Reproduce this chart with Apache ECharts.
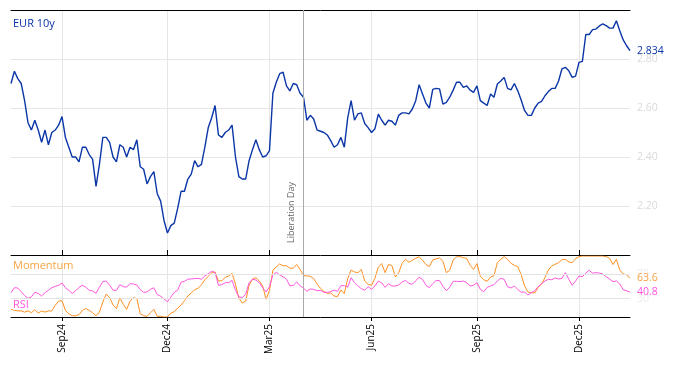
<!DOCTYPE html>
<html><head><meta charset="utf-8">
<script src="https://cdn.jsdelivr.net/npm/echarts@6/dist/echarts.min.js"></script>
<style>html,body{margin:0;padding:0;background:#fff}#c{width:674px;height:366px}</style>
</head><body><div id="c"></div>
<script>
// sampling: one observation every 3 calendar days from start date
const startDate = '2024-07-18';
const stepDays = 3;

const eur10y = [
2.70,2.75,2.72,2.70,2.63,2.54,2.51,2.55,2.51,2.46,2.51,2.45,2.50,2.51,2.53,2.565,2.48,2.44,2.40,2.40,
2.38,2.44,2.44,2.41,2.39,2.28,2.37,2.48,2.48,2.46,2.40,2.38,2.45,2.44,2.40,2.44,2.43,2.47,2.36,2.35,
2.29,2.32,2.34,2.25,2.22,2.14,2.09,2.12,2.13,2.19,2.26,2.26,2.31,2.33,2.385,2.36,2.37,2.44,2.52,2.56,
2.61,2.49,2.48,2.50,2.51,2.53,2.40,2.32,2.31,2.31,2.385,2.43,2.47,2.43,2.40,2.405,2.426,2.66,2.705,2.74,
2.746,2.69,2.67,2.70,2.695,2.66,2.644,2.55,2.57,2.555,2.51,2.505,2.50,2.49,2.467,2.44,2.45,2.48,2.44,2.56,
2.63,2.55,2.576,2.58,2.537,2.52,2.50,2.515,2.575,2.55,2.53,2.55,2.546,2.53,2.57,2.58,2.58,2.576,2.596,2.63,
2.695,2.657,2.62,2.60,2.676,2.68,2.678,2.616,2.623,2.644,2.673,2.705,2.705,2.684,2.69,2.673,2.664,2.69,2.63,2.62,
2.61,2.657,2.644,2.698,2.71,2.725,2.68,2.674,2.70,2.67,2.633,2.59,2.57,2.57,2.60,2.62,2.627,2.65,2.667,2.68,
2.68,2.71,2.76,2.766,2.752,2.725,2.73,2.786,2.79,2.90,2.90,2.92,2.922,2.935,2.943,2.936,2.926,2.926,2.956,2.915,
2.878,2.854,2.834
];

const momentum = [
12.5,11,10,10,8,10,7,12,6.4,10,8,10,10,19,26,26.7,10.8,5.3,2,2,
4,10.8,14,10.8,7,2,8,24.5,37.7,31.6,19.6,13.6,31.6,20.7,12.5,26,31.6,30,5.3,2,
1,7,12.5,1,1,0,0,6.4,8.6,14.6,19.6,26.7,34.4,39.3,44.8,47,53,61,66.7,72.7,
73.8,59,59.6,65,67,71.6,53.6,31,23,26,52,62,64.5,59,51,29,43.7,76.6,82,87,
84,84,80,80,86,78,67.8,67.3,66.7,63,54,47,42,38.8,39.3,34.4,33.5,44.2,38.2,63,
77,73.8,72.7,78,59,53.6,52,63.4,82,87.5,72.7,86,84.5,65.6,72.7,88,94.7,89.7,93,96.3,
98.5,93,86,82.6,93.8,95.2,96.8,91.4,72.7,76.6,93.5,98.5,99,97.4,95.8,84.8,78,87.5,66.7,61.2,
58.5,65.6,67.8,89,94.5,98.8,94.5,88,84.8,82.6,69.5,51,41,39.9,39.3,48.6,54.2,64.5,77,83.7,
86.4,89,94,94.5,90.3,89,95.8,99,100,100,100,100,100,100,100,99,96.4,86,94.5,77,
70.6,69,63.6
];

const rsi = [
39.9,48,47.5,41.5,35,30.5,33,40.4,38.8,34.4,39.9,43.7,48,50.3,52,55.8,48,43.7,38.8,43,
48.6,52,49,43.7,42.6,38.8,49,58,59,52,44,43.7,53,49.7,49,54.7,54,52.5,44.8,40.4,
41,45.3,48,37,34,29.5,25,32.7,40.4,44,57,58.5,62,62.3,63,63.4,62,67.3,71,75,
72.7,52,53,56.3,56.3,60,44,33,32,37,56,62,60.7,56.3,48,41,49.7,69,73.3,69,
66,62,51,52,57.4,51,47.5,42,46,45.3,43,43.7,40.4,40.4,41.5,44,42,51.4,51.4,49,
64.5,56.3,51,46.4,44,49.7,45.3,50.8,59,55.8,48.6,54.7,50.8,50.8,52.5,57.4,60,55.2,53.6,59.6,
65,61.8,52,48,54.7,60,59.6,50.3,43,49,58.5,58.5,58,59,56.3,50.8,52,56.3,45.3,41.5,
48.6,50.8,53,59,63.4,61.8,49.7,47.5,50.8,45.3,40.4,41,36,39.9,43,49.7,54.7,59,61.8,61,
64,62.3,63.4,72.7,62,52,59,67.3,66,72,76.6,72,72.7,72,70.6,66,62.3,58,59,54,
44.8,43,40.8
];

const eventDate = '2025-04-02';
const eventLabel = 'Liberation Day';
const mainLabel = 'EUR 10y';
const momLabel = 'Momentum';
const rsiLabel = 'RSI';
const rsiLevels = [30, 70];
const quarterMonths = [2, 5, 8, 11];
const monthNames = ['Jan','Feb','Mar','Apr','May','Jun','Jul','Aug','Sep','Oct','Nov','Dec'];

const t0 = Date.parse(startDate + 'T00:00:00Z');
const dates = eur10y.map((_, i) => new Date(t0 + i * stepDays * 86400000).toISOString().slice(0, 10));
const monthOf = s => parseInt(s.slice(5, 7), 10) - 1;
const tickSet = new Set();
dates.forEach((d, i) => {
  const m = monthOf(d);
  if (quarterMonths.includes(m) && (i === 0 || monthOf(dates[i - 1]) !== m)) tickSet.add(i);
});
const isTick = (i) => tickSet.has(i);
const fmtDate = v => monthNames[monthOf(v)] + v.slice(2, 4);

const C_MAIN = '#0b36a8', C_MOM = '#ff8f1f', C_RSI = '#ff55dd';
const FONT = '"Open Sans", sans-serif';

const chart = echarts.init(document.getElementById('c'), null, {renderer: 'canvas'});
const cat = {type: 'category', data: dates, boundaryGap: false};
chart.setOption({
  animation: false,
  textStyle: {fontFamily: FONT},
  grid: [
    {left: 11, right: 44, top: 10, height: 245},
    {left: 11, right: 44, top: 256, height: 61}
  ],
  xAxis: [
    Object.assign({}, cat, {gridIndex: 0, position: 'bottom',
      axisLine: {lineStyle: {color: '#000', width: 1}},
      axisTick: {inside: true, length: 5, interval: isTick, lineStyle: {color: '#000'}},
      axisLabel: {show: false},
      splitLine: {show: true, interval: isTick, lineStyle: {color: '#e6e6e6'}}}),
    Object.assign({}, cat, {gridIndex: 0, position: 'top',
      axisLine: {lineStyle: {color: '#000', width: 1}},
      axisTick: {show: false}, axisLabel: {show: false}, splitLine: {show: false}}),
    Object.assign({}, cat, {gridIndex: 1, position: 'bottom',
      axisLine: {lineStyle: {color: '#000', width: 1}},
      axisTick: {length: 4, interval: isTick, lineStyle: {color: '#000'}},
      axisLabel: {interval: isTick, rotate: 90, margin: 7, fontSize: 10, color: '#000', fontFamily: FONT, formatter: fmtDate},
      splitLine: {show: true, interval: isTick, lineStyle: {color: '#e6e6e6'}}})
  ],
  yAxis: [
    {type: 'value', gridIndex: 0, position: 'right', min: 2, max: 3, interval: 0.2,
      axisLine: {show: false}, axisTick: {show: false},
      axisLabel: {showMinLabel: false, showMaxLabel: false, color: '#d9d9d9', fontSize: 10.5, margin: 7, fontFamily: FONT,
        formatter: v => v.toFixed(2)},
      splitLine: {lineStyle: {color: '#e6e6e6'}}},
    {type: 'value', gridIndex: 1, position: 'right', min: 0, max: 100,
      axisLine: {show: false}, axisTick: {show: false},
      axisLabel: {customValues: rsiLevels, color: '#ebebeb', fontSize: 10.5, margin: 7, fontFamily: FONT},
      splitLine: {show: false}}
  ],
  series: [
    {type: 'line', name: mainLabel, xAxisIndex: 0, yAxisIndex: 0, data: eur10y, symbol: 'none',
      lineStyle: {color: C_MAIN, width: 1.4}, itemStyle: {color: C_MAIN}, z: 3,
      endLabel: {show: true, formatter: p => Number(p.value).toFixed(3), color: C_MAIN, fontSize: 10.5, distance: 7, fontFamily: FONT},
      markLine: {silent: true, symbol: ['none', 'none'], animation: false,
        lineStyle: {color: '#aaaaaa', width: 1, type: 'solid'},
        label: {show: true, formatter: eventLabel, position: 'insideStartTop', color: '#666', fontSize: 9, fontFamily: FONT, distance: [12, 8]},
        data: [{xAxis: eventDate}]}},
    {type: 'line', name: momLabel, xAxisIndex: 2, yAxisIndex: 1, data: momentum, symbol: 'none',
      lineStyle: {color: C_MOM, width: 1}, itemStyle: {color: C_MOM}, z: 3,
      endLabel: {show: true, formatter: p => Number(p.value).toFixed(1), color: '#f7a444', fontSize: 10.5, distance: 7, fontFamily: FONT},
      markLine: {silent: true, symbol: ['none', 'none'], animation: false, label: {show: false},
        lineStyle: {color: '#e3e3e3', width: 1, type: 'solid'},
        data: rsiLevels.map(v => ({yAxis: v}))}},
    {type: 'line', name: rsiLabel, xAxisIndex: 2, yAxisIndex: 1, data: rsi, symbol: 'none',
      lineStyle: {color: C_RSI, width: 1}, itemStyle: {color: C_RSI}, z: 3,
      endLabel: {show: true, formatter: p => Number(p.value).toFixed(1), color: C_RSI, fontSize: 10.5, distance: 7, fontFamily: FONT},
      markLine: {silent: true, symbol: ['none', 'none'], animation: false, label: {show: false},
        lineStyle: {color: '#aaaaaa', width: 1, type: 'solid'},
        data: [{xAxis: eventDate}]}}
  ],
  graphic: [
    {type: 'text', left: 13, top: 18, z: 100, style: {text: mainLabel, fill: C_MAIN, font: '11px "Open Sans"'}},
    {type: 'text', left: 13, top: 260, z: 100, style: {text: momLabel, fill: '#f7a444', font: '11px "Open Sans"'}},
    {type: 'text', left: 13, top: 299, z: 100, style: {text: rsiLabel, fill: C_RSI, font: '11px "Open Sans"', backgroundColor: 'rgba(255,255,255,0.7)'}}
  ]
});
</script>
</body></html>
